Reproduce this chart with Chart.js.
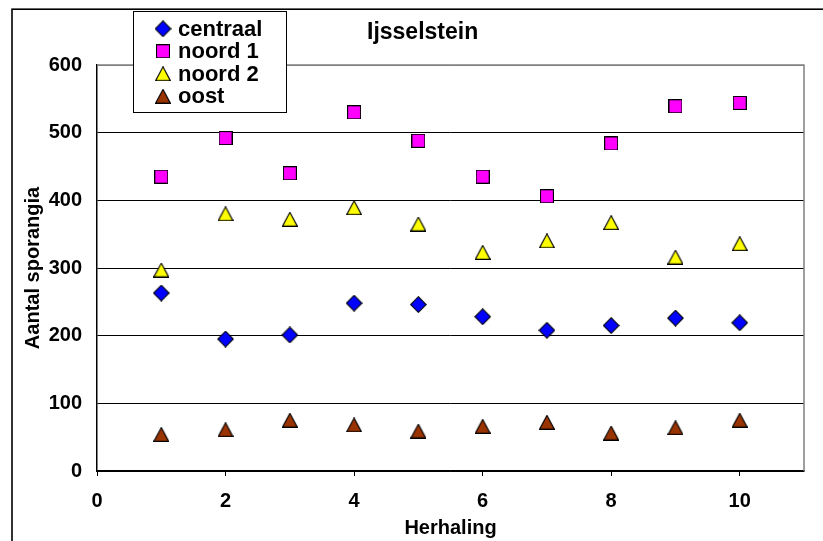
<!DOCTYPE html>
<html>
<head>
<meta charset="utf-8">
<title>Ijsselstein</title>
<script src="https://cdn.jsdelivr.net/npm/chart.js@4/dist/chart.umd.min.js"></script>
<style>
  html, body { margin: 0; padding: 0; background: #ffffff; }
  #wrap { width: 823px; height: 541px; }
</style>
</head>
<body>
<div id="wrap"><canvas id="chart" width="823" height="541"></canvas></div>
<script>
// Repetition number (x) and sporangia counts per location (y)
const herhaling = [1, 2, 3, 4, 5, 6, 7, 8, 9, 10];
const centraal = [263, 195, 201, 248, 246, 228, 208, 215, 226, 219];
const noord1   = [435, 492, 440, 530, 488, 435, 406, 484, 539, 544];
const noord2   = [297, 380, 372, 389, 365, 323, 340, 367, 316, 336];
const oost     = [54, 61, 75, 68, 59, 66, 72, 56, 64, 75];

const seriesLabels = ['centraal', 'noord 1', 'noord 2', 'oost'];
const xTicks = [0, 2, 4, 6, 8, 10];
const yTicks = [0, 100, 200, 300, 400, 500, 600];
const chartTitle = 'Ijsselstein';
const xTitle = 'Herhaling';
const yTitle = 'Aantal sporangia';

const FONT = '"Liberation Sans", Arial, Helvetica, sans-serif';

// Marker sprites (drawn centred on each point by Chart.js)
function makeMarker(shape, fill) {
  const c = document.createElement('canvas');
  const ctx = c.getContext('2d');
  if (shape === 'diamond') {
    c.width = 17; c.height = 17;
    ctx.beginPath();
    ctx.moveTo(8.5, 0.7); ctx.lineTo(16.3, 8.5); ctx.lineTo(8.5, 16.3); ctx.lineTo(0.7, 8.5);
    ctx.closePath();
  } else if (shape === 'square') {
    c.width = 14; c.height = 14;
    ctx.beginPath();
    ctx.rect(0.5, 0.5, 13, 13);
  } else {
    c.width = 16; c.height = 15;
    ctx.beginPath();
    ctx.moveTo(8, 0.6); ctx.lineTo(15.4, 14.4); ctx.lineTo(0.6, 14.4);
    ctx.closePath();
  }
  ctx.fillStyle = fill;
  ctx.fill();
  ctx.lineWidth = 1.1;
  ctx.strokeStyle = '#000000';
  ctx.lineJoin = 'miter';
  ctx.stroke();
  return c;
}

const markers = [
  makeMarker('diamond', '#0000FF'),
  makeMarker('square', '#FF00FF'),
  makeMarker('triangle', '#FFFF00'),
  makeMarker('triangle', '#993300')
];

const toPoints = ys => herhaling.map((x, i) => ({ x: x, y: ys[i] }));

// Background, outer frame, title, plot frame and boxed legend
const decorations = {
  id: 'decorations',
  beforeDraw(chart) {
    const ctx = chart.ctx;
    ctx.save();
    ctx.fillStyle = '#ffffff';
    ctx.fillRect(0, 0, chart.width, chart.height);
    ctx.strokeStyle = '#000000';
    ctx.lineWidth = 1.6;
    ctx.strokeRect(12, 9.2, 900, 900);
    ctx.restore();
  },
  beforeDatasetsDraw(chart) {
    const { ctx, chartArea: a } = chart;
    ctx.save();
    ctx.strokeStyle = '#808080';
    ctx.lineWidth = 1.5;
    ctx.beginPath();
    ctx.moveTo(a.left, a.top);
    ctx.lineTo(a.right, a.top);
    ctx.lineTo(a.right, a.bottom);
    ctx.stroke();
    ctx.restore();
  },
  afterDraw(chart) {
    const ctx = chart.ctx;
    ctx.save();
    // title
    ctx.fillStyle = '#000000';
    ctx.font = 'bold 23px ' + FONT;
    ctx.textAlign = 'left';
    ctx.textBaseline = 'alphabetic';
    ctx.fillText(chartTitle, 367, 38.5);

    // legend box
    ctx.fillStyle = '#ffffff';
    ctx.fillRect(133, 11, 153, 101.5);
    ctx.strokeStyle = '#000000';
    ctx.lineWidth = 1;
    ctx.strokeRect(133.5, 11.5, 153, 101);
    ctx.font = 'bold 22px ' + FONT;
    chart.data.datasets.forEach((ds, i) => {
      const cy = 28.8 + i * 22.5;
      const m = ds.pointStyle;
      ctx.drawImage(m, 163 - m.width / 2, cy - m.height / 2);
      ctx.fillStyle = '#000000';
      ctx.fillText(ds.label, 178, cy + 7);
    });
    ctx.restore();
  }
};

const makeDataset = (i, ys) => ({
  label: seriesLabels[i],
  data: toPoints(ys),
  pointStyle: markers[i],
  pointRadius: 8,
  pointHoverRadius: 8,
  showLine: false
});

new Chart(document.getElementById('chart'), {
  type: 'scatter',
  data: {
    datasets: [
      makeDataset(0, centraal),
      makeDataset(1, noord1),
      makeDataset(2, noord2),
      makeDataset(3, oost)
    ]
  },
  options: {
    responsive: false,
    animation: false,
    devicePixelRatio: 1,
    layout: { padding: { top: 65, right: 19, left: 13, bottom: 0 } },
    plugins: {
      legend: { display: false },
      title: { display: false },
      tooltip: { enabled: false }
    },
    scales: {
      x: {
        type: 'linear',
        min: 0,
        max: 11,
        afterBuildTicks: s => { s.ticks = xTicks.map(v => ({ value: v })); },
        afterFit: s => { s.height = 70; },
        ticks: {
          color: '#000000',
          padding: 13,
          font: { family: FONT, size: 20, weight: 'bold' }
        },
        grid: {
          drawOnChartArea: false,
          drawTicks: true,
          tickLength: 5,
          color: '#000000',
          lineWidth: 1
        },
        border: { display: true, color: '#000000', width: 1.5 },
        title: {
          display: true,
          text: xTitle,
          color: '#000000',
          font: { family: FONT, size: 20, weight: 'bold' },
          padding: { top: 0, bottom: 1 }
        }
      },
      y: {
        type: 'linear',
        min: 0,
        max: 600,
        afterBuildTicks: s => { s.ticks = yTicks.map(v => ({ value: v })); },
        afterFit: s => { s.width = 84; },
        ticks: {
          color: '#000000',
          padding: 15,
          font: { family: FONT, size: 20, weight: 'bold' }
        },
        grid: {
          drawTicks: false,
          color: c => (c.tick && c.tick.value === 600) ? '#808080' : '#000000',
          lineWidth: 1
        },
        border: { display: true, color: '#000000', width: 1.5 },
        title: {
          display: true,
          text: yTitle,
          color: '#000000',
          font: { family: FONT, size: 20, weight: 'bold' },
          padding: { top: 8, bottom: 0 }
        }
      }
    }
  },
  plugins: [decorations]
});
</script>
</body>
</html>
